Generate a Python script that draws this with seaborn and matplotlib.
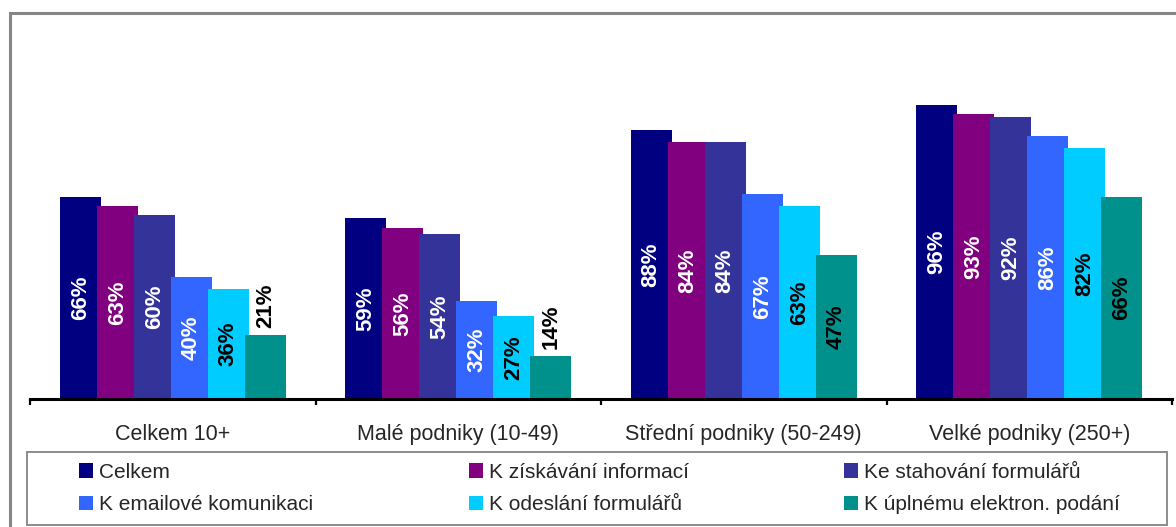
import numpy as np
import pandas as pd
import matplotlib.pyplot as plt
import seaborn as sns
from matplotlib.patches import Patch, Rectangle

# data
groups = ["Celkem 10+", "Malé podniky (10-49)", "Střední podniky (50-249)", "Velké podniky (250+)"]
series = ["Celkem", "K získávání informací", "Ke stahování formulářů",
          "K emailové komunikaci", "K odeslání formulářů", "K úplnému elektron. podání"]
celkem = [66, 59, 88, 96]
ziskavani = [63, 56, 84, 93]
stahovani = [60, 54, 84, 92]
email = [40, 32, 67, 86]
odeslani = [36, 27, 63, 82]
podani = [21, 14, 47, 66]

colors = ["#000080", "#800080", "#333399", "#3366FF", "#00CCFF", "#00918C"]
label_colors = ["white", "white", "white", "white", "black", "black"]

df = pd.DataFrame({
    "group": groups * 6,
    "series": np.repeat(series, 4),
    "value": celkem + ziskavani + stahovani + email + odeslani + podani,
})

sns.set_style("white")
plt.rcParams["font.family"] = ["Liberation Sans", "DejaVu Sans"]

W, H = 1176, 527
fig = plt.figure(figsize=(W / 100, H / 100), dpi=100)
ax = fig.add_axes([30 / W, 128 / H, 1142 / W, 306 / H])

sns.barplot(df, x="group", y="value", hue="series", order=groups, hue_order=series,
            palette=colors, saturation=1, width=0.778, gap=-0.108,
            errorbar=None, linewidth=0, legend=False, ax=ax)

# bar labels, vertical; small ones sit above the bar
for cont, col in zip(ax.containers, label_colors):
    for bar in cont:
        h = bar.get_height()
        x = bar.get_x() + bar.get_width() / 2
        if h < 25:
            ax.text(x, h + 2.3, f"{h:.0f}%", rotation=90, ha="center", va="bottom",
                    color="black", fontsize=16, fontweight="bold")
        else:
            ax.text(x, h / 2, f"{h:.0f}%", rotation=90, ha="center", va="center",
                    color=col, fontsize=16, fontweight="bold")

ax.set_ylim(0, 100)
ax.set_xlim(-0.5, 3.5)
ax.set_yticks([])
ax.set_xlabel("")
ax.set_ylabel("")
for s in ["left", "top", "right"]:
    ax.spines[s].set_visible(False)
ax.spines["bottom"].set_color("black")
ax.spines["bottom"].set_linewidth(2.2)
ax.set_xticks([-0.5, 0.5, 1.5, 2.5, 3.5], minor=True)
ax.tick_params(axis="x", which="major", bottom=False, length=0, pad=18, labelsize=15.5)
ax.tick_params(axis="x", which="minor", bottom=True, length=4.5, width=1.6,
               color="black", direction="out")

# outer frame (only left and top edges visible)
fig.add_artist(Rectangle((9.5 / W, -0.2), 1.5, 1.2 - 12.5 / H, transform=fig.transFigure,
                         fill=False, edgecolor="#858585", linewidth=2.2))

# legend box
fig.add_artist(Rectangle((27 / W, 2 / H), 1140 / W, 73 / H, transform=fig.transFigure,
                         fill=False, edgecolor="#8c8c8c", linewidth=1.4))
handles = [Patch(facecolor=c, edgecolor="none") for c in colors]
order = [0, 3, 1, 4, 2, 5]
fig.legend([handles[i] for i in order], [series[i] for i in order],
           loc="center", bbox_to_anchor=(79 / W, (527 - 488.5 - 40) / H, 1041 / W, 80 / H),
           mode="expand", ncol=3, frameon=False, fontsize=15,
           handlelength=0.67, handleheight=0.67, handletextpad=0.29,
           labelspacing=0.65, borderpad=0, borderaxespad=0)

fig.savefig("out.png", dpi=100)
